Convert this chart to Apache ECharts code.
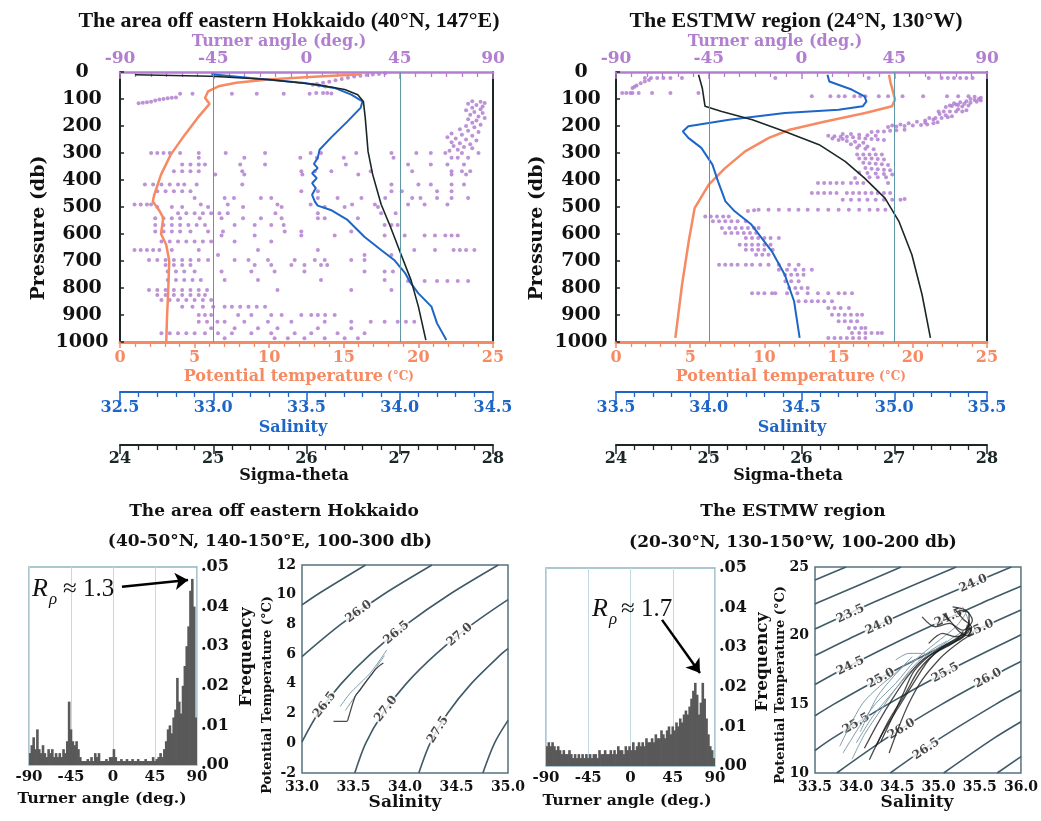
<!DOCTYPE html>
<html lang="en">
<head>
    <meta charset="UTF-8">
    <title>Turner angle profiles</title>
    <script src="https://cdn.jsdelivr.net/npm/echarts@6/dist/echarts.min.js"></script>
    <style>
        html, body { margin: 0; padding: 0; background: #fff; }
        #main { width: 1041px; height: 821px; }
    </style>
</head>
<body>
<div id="main"></div>
<script>
    // ---------- profiles: [value, pressure (db)] ----------
    // area off eastern Hokkaido (40N, 147E)
    var tempHok = [[16.2,8],[13,18],[9.9,28],[7.8,40],[6.6,53],[5.9,72],[5.7,96],[6.0,118],[5.2,170],[4.35,232],[3.4,306],[2.75,380],[2.3,454],[2.2,480],[2.6,510],[2.9,540],[2.75,600],[3.1,640],[3.3,700],[3.25,780],[3.2,850],[3.15,910],[3.1,1000]];
    var salHok = [[32.99,8],[33.2,22],[33.49,41],[33.65,59],[33.74,84],[33.8,109],[33.79,133],[33.72,183],[33.63,244],[33.57,288],[33.56,319],[33.54,340],[33.56,356],[33.53,375],[33.555,393],[33.53,412],[33.55,430],[33.53,455],[33.545,480],[33.56,495],[33.63,511],[33.72,548],[33.81,610],[33.9,659],[33.97,696],[34.03,746],[34.06,783],[34.1,820],[34.17,869],[34.2,931],[34.25,993]];
    var sigHok = [[24.16,10],[24.98,16],[25.59,28],[26.12,47],[26.41,65],[26.55,84],[26.61,109],[26.63,170],[26.66,294],[26.71,380],[26.8,490],[26.9,573],[27.01,672],[27.12,770],[27.2,869],[27.28,993]];
    var turnerHok = [
        [38,5],[35,7],[32,9],[29,11],[26,14],[23,17],[20,21],[17,26],[14,31],[11,36],[8,40],[5,44],[3,47],[6,50],[9,54],[4.7,78],[8,78],[10,78],[12,80],
        [-61,81],[-55,81],[-36,81],[-24,81],[-11,81],[1.5,81],
        [-81,116],[-79,114],[-77,112],[-75,110],[-73,106],[-71,102],[-69,100],[-67,97],[-65,95],[-63,94],
        [80,108],[84,110],[86,115],[78,118],[82,122],[85,128],[80,132],[84,138],[77,142],[81,148],[85,152],[79,158],[83,165],[86,170],[78,175],[82,180],[80,188],[84,195],[77,200],[81,205],[74,212],[78,218],[83,222],[70,228],[75,232],[80,236],[68,242],[72,246],[77,250],[82,254],[70,260],[74,264],[79,268],[71,274],[76,278],[80,282],[73,288],[69,292],
        [-75,300],[-72,300],[-69,300],[-66,300],[-61,300],[-52,300],[-39,300],[-20,300],[2,300],[7,300],[24,300],[41,300],[53,300],[60,300],[67,300],[75,300],[83,300],
        [-52,318],[-30,318],[-3,318],[5,318],[18,318],[42,318],[70,318],[73,318],[78,318],
        [-60,343],[-56,343],[-52,343],[-49,343],[-32,343],[-20,343],[19,343],[49,343],[60,343],[68,343],[76,343],
        [-64,368],[-60,368],[-56,368],[-52,368],[-31,368],[-2.5,368],[4,368],[12,368],[31,368],[51,368],[70,368],[75,368],[79,368],
        [-44,380],[-30,380],[-2,380],[25,380],[70,380],[77,380],
        [-78,417],[-74,417],[-70,417],[-66,417],[-62,417],[-59,417],[-53,417],[-31,417],[41,417],[54,417],[60,417],[70,417],[76,417],
        [-72,442],[-68,442],[-64,442],[-60,442],[-56,442],[-2.5,442],[5.5,442],[41,442],[46,442],[63,442],[70,442],
        [-54,467],[-39.5,467],[-35,467],[-22,467],[-17,467],[5.5,467],[15,467],[26.5,467],[38,467],[51,467],[55,467],[63,467],[70,467],[78,467],
        [-83,491],[-80,491],[-77,491],[-75,491],[-51,491],[-38,491],[-14,491],[2,491],[22,491],[33,491],[49,491],[57,491],[68,491],
        [-72,500],[-65,500],[-60,500],[-47.5,500],[-30.6,500],[-12,500],[8.8,500],[18.4,500],[34.5,500],
        [-62,523],[-58,523],[-54,523],[-50,523],[-46,523],[-42,523],[-38,523],[-15,523],[5.5,523],[36,523],[43,523],
        [-73,542],[-69,542],[-65,542],[-61,542],[-51.5,542],[-41,542],[-30.6,542],[-22,542],[-12,542],[5.5,542],[8.8,542],[24.8,542],
        [-73,567],[-69,567],[-65,567],[-61,567],[-57,567],[-53,567],[-49,567],[-34.7,567],[-25,567],[-17,567],[-11,567],[37.7,567],[41,567],[44,567],
        [-73,591],[-69,591],[-65,591],[-61,591],[-56,591],[-47.5,591],[-40.3,591],[-10.5,591],[-2.5,591],[21.6,591],
        [-41,606],[-25,606],[-2.5,606],[13.6,606],[37.7,606],[47.4,606],[57,606],[62,606],[67,606],[70,606],[73,606],
        [-70,628],[-66,628],[-62,628],[-58,628],[-54,628],[-50,628],[-46,628],[-34.7,628],[-17,628],
        [-83,659],[-80,659],[-77,659],[-74,659],[-71,659],[-65,659],[-52,659],[-23.4,659],[5.5,659],[52,659],[62,659],[71,659],[74,659],[77,659],[81,659],
        [-42.7,678],[28,678],[41,678],
        [-76,696],[-72,696],[-68,696],[-64,696],[-60,696],[-56,696],[-52,696],[-47.5,696],[-34.7,696],[-28,696],[-18.6,696],[-5.7,696],[4,696],[8.8,696],[21.6,696],[28,696],
        [-68,715],[-64,715],[-60,715],[-56,715],[-25,715],[-17,715],[-7.3,715],[-1,715],[7,715],[10,715],
        [-67,739],[-63,739],[-59,739],[-54,739],[-41,739],[-26.6,739],[-15.4,739],[-1,739],[28,739],[37.7,739],[41.7,739],
        [-67,770],[-63,770],[-59,770],[-55,770],[-51,770],[-39.5,770],[-23.4,770],[7,770],[37.7,770],[49,774],[57,774],[63,774],[68,774],[73,774],[78,774],
        [-76,807],[-72,807],[-68,807],[-64,807],[-60,807],[-56,807],[-52,807],[-48,807],[-14,807],[21.6,807],[41,807],
        [-72,826],[-68,826],[-64,826],[-60,826],[-56,826],[-52,826],[-49,826],
        [-70,844],[-66,844],[-62,844],[-58,844],[-54,844],[-50,844],[-46,844],
        [-60,869],[-55,869],[-50,869],[-45,869],[-39.5,869],[-36,869],[-32,869],[-28,869],[-24,869],[-20,869],
        [-52,900],[-49,900],[-46,900],[-33,900],[-26.6,900],[-17,900],[-12,900],[-2.5,900],[2.3,900],[5.5,900],[9,900],[13.6,900],
        [-52,925],[-48,925],[-43,925],[-39.5,925],[-30,925],[-18.6,925],[-7.3,925],[8.8,925],[21.6,925],[31,925],[37.7,925],[44,925],[48,925],[52,925],
        [-46,949],[-34.7,949],[-23.4,949],[-14,949],[5.5,949],[21.6,949],
        [-70,968],[-66,968],[-62,968],[-58,968],[-54,968],[-49,968],[-42.7,968],[-36,968],[-26.6,968],[-17,968],[-5.7,968],[2.3,968],[15,968],[28,968],
        [-39.5,986],[-15.4,986],[-9,986],[-1,986],[8.8,986],[18.4,986],[24.8,986]
    ];

    // ESTMW region (24N, 130W)
    var tempEst = [[18.4,10],[18.5,40],[18.6,59],[18.8,102],[18.6,127],[16.8,152],[14.1,183],[11.7,214],[10.3,244],[8.7,294],[7.35,356],[6.25,417],[5.3,504],[4.9,627],[4.45,788],[4.0,985]];
    var salEst = [[34.64,10],[34.65,35],[34.77,65],[34.84,90],[34.85,109],[34.83,127],[34.7,140],[34.41,152],[34.11,177],[33.89,201],[33.86,220],[33.89,244],[33.96,281],[34.02,343],[34.05,405],[34.09,479],[34.14,516],[34.23,565],[34.34,664],[34.41,751],[34.46,849],[34.49,985]];
    var sigEst = [[24.89,10],[24.93,59],[24.96,127],[25.14,146],[25.47,177],[25.82,220],[26.19,269],[26.47,331],[26.68,393],[26.9,467],[27.05,553],[27.19,677],[27.3,825],[27.39,985]];
    var turnerEst = [
        [-76,22],[-73,22],[-70,22],[-67,22],[-63.6,22],[-58,22],[-12.7,22],[32.6,22],[61.7,22],[68,22],[71,22],[74,22],[77,22],[80,22],[83,22],
        [-82,59],[-81,55],[-80,50],[-78,42],[-76,35],[-74,30],
        [-87,78],[-85,78],[-83,78],[-82,78],[-79,78],[-72.5,78],[-63.6,78],[-50,78],
        [25.6,90],[5,90],[14,90],[18,90],[21,90],[28.5,90],[31,90],[37.5,90],[42,90],[49,90],[59,90],[70.6,90],[76,90],[81,90],[84,92],[87,95],
        [70,130],[73,126],[76,122],[79,118],[82,114],[85,110],[87,106],[84,104],[80,108],[77,112],[74,116],[82,100],[86,100],[75,120],[72,124],[78,128],[81,124],
        [66.5,146],[69,146],[72,146],[75,146],[78,146],[80,142],[76,138],
        [62,170],[65,170],[68,170],[71,168],[73,164],[70,160],[67,156],[64,176],[60,180],[56,184],[52,190],[48,194],[44,198],
        [42,204],[46,202],[50,200],[54,198],[58,196],[61,194],[64,190],[66,186],[60,188],
        [34,222],[37,220],[40,220],[43,218],[46,216],[50,214],[20,230],[24,230],[28,232],[32,234],[36,236],[15,246],[20,248],
        [13,236],[16,238],[19,240],[22,240],[25,242],[28,244],[31,246],[34,248],[37,250],[40,252],[18,252],[22,256],[26,258],[30,262],[24,268],[28,272],[32,276],[27,281],[31,284],[35,286],
        [27,306],[30,306],[33,306],[36,306],[39,306],[28,320],[31,320],[34,320],[37,322],[40,324],[30,336],[33,338],[36,340],[39,342],[42,344],[31,356],[34,358],[37,360],[40,362],[43,364],[28,372],[32,374],[36,376],[40,378],[44,380],[33,390],[37,390],[41,390],[26,393],
        [8,411],[11,411],[14,411],[17,411],[20,411],[24,411],[27,411],[30,411],[42,411],
        [5,448],[8,448],[11,448],[14,448],[17,448],[22,448],[25,448],[28,448],[31,448],[34,448],[37,448],[40,448],[43,448],
        [20,473],[24,473],[28,473],[32,473],[36,473],[40,473],[44,473],[48,473],[50,470],
        [-20.8,510],[-16,510],[-11,510],[-6,510],[-1.5,510],[3,510],[8,510],[13,510],[18,510],[23,510],[28,510],[33,510],[37,510],[40.7,510],[-23,512],[-26,515],
        [-46.7,535],[-44,535],[-41,535],[-38,535],[-35.3,535],
        [-43,553],[-40,553],[-37,553],[-34,553],[-31,553],[-27,553],
        [-38.6,578],[-35,578],[-32,578],[-29,578],[-26,578],[-23,578],[-20.8,578],
        [-37,596],[-34,596],[-31,596],[-28,596],[-25,596],[-22,596],
        [-27,615],[-24,615],[-21,615],[-18,615],[-15,615],[-11,615],
        [-30,640],[-27,640],[-24,640],[-21,640],[-18,640],[-15,640],
        [-27,658],[-24,658],[-21,658],[-18,658],[-14,658],
        [-22,677],[-19,677],[-16,677],
        [-40,714],[-37,714],[-34,714],[-31,714],[-27,714],[-24,714],[-20,714],[-16,714],[-11,714],[-6,714],[-1.4,714],
        [-11,732],[-7,732],[-3,732],[1,732],[5,732],
        [-8,751],[-5,751],[-2,751],[1,751],
        [-7.8,775],[-5,775],[-1.4,775],
        [-6,800],[-3,800],[0,800],[3,800],
        [-24,819],[-21,819],[-18,819],[-14.3,819],[-12.7,819],[-7,819],[-2,819],[3,819],[8,819],[13,819],[18,819],[21,819],[24.5,819],
        [-1.4,849],[2,849],[5,849],[8,849],[11,849],[14.8,849],
        [13,874],[16,874],[19,874],[23,874],
        [14.8,899],[18,899],[21,899],[24,899],[27,899],[29.4,899],
        [18,923],[21,923],[24,923],[27,923],
        [23,948],[26,948],[29,948],[31,948],
        [24.5,967],[28,967],[31,967],[34,967],[37,967],[39,967],
        [13,985],[16,985],[19,985],[22,985],[25,985],[28,985],[31,985]
    ];

    // ---------- Turner angle histograms (2 degree bins) ----------
    var turnerBins = [-89,-87,-85,-83,-81,-79,-77,-75,-73,-71,-69,-67,-65,-63,-61,-59,-57,-55,-53,-51,-49,-47,-45,-43,-41,-39,-37,-35,-33,-31,-29,-27,-25,-23,-21,-19,-17,-15,-13,-11,-9,-7,-5,-3,-1,1,3,5,7,9,11,13,15,17,19,21,23,25,27,29,31,33,35,37,39,41,43,45,47,49,51,53,55,57,59,61,63,65,67,69,71,73,75,77,79,81,83,85,87,89];
    var histHok = [
        0.003,0.005,0.007,0.004,0.009, 0.004,0.003,0.005,0.003,0.002, 0.004,0.003,0.004,0.002,0.003,
        0.002,0.003,0.002,0.004,0.003, 0.006,0.016,0.009,0.006,0.005, 0.006,0.004,0.002,0.001,0.001,
        0.001,0.0015,0.001,0.002,0.001, 0.003,0.002,0.003,0.001,0.001, 0.001,0.0015,0.001,0.002,0.002,
        0.004,0.002,0.001,0.001,0.0015, 0.001,0.001,0.0015,0.001,0.001, 0.0015,0.001,0.001,0.0015,0.001,
        0.001,0.001,0.0015,0.001,0.001, 0.001,0.002,0.001,0.0015,0.002, 0.003,0.002,0.004,0.006,0.009,
        0.010,0.008,0.012,0.014,0.022, 0.016,0.013,0.020,0.025,0.030, 0.035,0.044,0.047,0.040,0.012
    ];
    var histEst = [
        0.005,0.006,0.005,0.006,0.005, 0.004,0.005,0.004,0.003,0.004, 0.003,0.003,0.004,0.003,0.002,
        0.003,0.002,0.003,0.002,0.003, 0.002,0.003,0.002,0.003,0.002, 0.003,0.003,0.002,0.004,0.003,
        0.003,0.004,0.003,0.003,0.004, 0.003,0.004,0.003,0.005,0.004, 0.004,0.003,0.005,0.004,0.005,
        0.004,0.006,0.004,0.005,0.006, 0.005,0.006,0.005,0.007,0.006, 0.006,0.007,0.006,0.008,0.007,
        0.007,0.009,0.008,0.007,0.009, 0.010,0.008,0.010,0.009,0.011, 0.010,0.012,0.011,0.013,0.014,
        0.013,0.015,0.017,0.019,0.021, 0.018,0.013,0.016,0.021,0.017, 0.012,0.008,0.005,0.004,0.002
    ];
    // R_rho arrows [turner angle, frequency]
    var arrowHok = [[9.6,0.045],[80.4,0.0467]];
    var arrowEst = [[33.6,0.0369],[74,0.0235]];

    // ---------- T-S diagrams: [salinity, potential temperature] ----------
    var isoHokLines = [
        [[33.0,9.31],[33.145,10],[33.617,12]],
        [[33.0,5.84],[33.376,8],[33.786,10],[34.262,12]],
        [[33.0,0.1],[33.156,2],[33.379,4],[33.665,6],[34.014,8],[34.427,10],[34.906,12]],
        [[33.512,-2],[33.618,0],[33.784,2],[34.01,4],[34.3,6],[34.652,8],[35.0,9.67]],
        [[34.134,-2],[34.243,0],[34.412,2],[34.641,4],[34.934,6],[35.0,6.37]],
        [[34.756,-2],[34.868,0],[35.0,1.54]]
    ];
    var isoHokLabels = [[33.55,8.86,'26.0'],[33.918,7.45,'26.5'],[33.22,2.59,'26.5'],[33.815,2.3,'27.0'],[34.53,7.3,'27.0'],[34.32,0.91,'27.5']];
    var isoHokLabelRot = [36, 40, 53, 52, 40, 58];
    var tsHokDark = [[[33.306,1.47],[33.435,1.47],[33.45,1.7],[33.516,3.15],[33.565,3.6],[33.661,4.5],[33.726,5.06],[33.79,5.4]]];
    var tsHokLight = [
        [[33.371,2.48],[33.468,3.38],[33.532,3.82],[33.661,4.72],[33.758,5.62],[33.823,6.29]],
        [[33.42,2.2],[33.5,3.0],[33.6,4.0],[33.7,4.9],[33.8,5.9]]
    ];

    var isoEstLines = [
        [[33.5,24.05],[33.876,25]],
        [[33.5,22.3],[33.574,22.5],[34.545,25]],
        [[33.5,20.48],[34.24,22.5],[35.214,25]],
        [[33.5,18.55],[33.991,20],[34.905,22.5],[35.883,25]],
        [[33.5,16.44],[33.82,17.5],[34.653,20],[35.571,22.5],[36.0,23.6]],
        [[33.5,14.17],[33.725,15],[34.478,17.5],[35.315,20],[36.0,21.87]],
        [[33.5,11.64],[33.706,12.5],[34.381,15],[35.137,17.5],[35.977,20],[36.0,20.06]],
        [[33.764,10],[34.359,12.5],[35.037,15],[35.796,17.5],[36.0,18.12]],
        [[34.413,10],[35.012,12.5],[35.692,15],[36.0,16.02]],
        [[35.062,10],[35.665,12.5],[36.0,13.73]],
        [[35.712,10],[36.0,11.19]]
    ];
    var isoEstLabels = [[33.93,21.6,'23.5'],[34.28,20.75,'24.0'],[35.42,23.8,'24.0'],[33.93,17.8,'24.5'],[35.12,21.3,'24.5'],[34.3,16.9,'25.0'],[35.5,20.5,'25.0'],[34.0,13.6,'25.5'],[35.08,17.3,'25.5'],[34.55,13.2,'26.0'],[35.6,16.9,'26.0'],[34.85,11.75,'26.5']];
    var isoEstLabelRot = [25, 24, 23, 26, 24, 29, 24, 31, 29, 31, 29, 34];
    var tsEstDark = [
        [[34.24,11.94],[34.4,13.87],[34.6,15.81],[34.76,17.5],[34.96,18.71],[35.17,19.44],[35.33,20.16],[35.37,21.13]],
        [[34.16,10.97],[34.32,12.9],[34.52,14.84],[34.72,16.78],[34.88,18.23],[35.05,19.19],[35.25,19.92],[35.41,20.65]],
        [[34.8,21.37],[34.96,20.65],[35.13,20.89],[35.29,20.4],[35.41,21.13],[35.33,21.85],[35.17,22.1]],
        [[34.88,19.44],[35.05,20.16],[35.21,19.92],[35.37,20.4],[35.37,21.61],[35.25,21.85]],
        [[34.4,11.45],[34.52,13.39],[34.64,15.08],[34.8,16.78],[35.0,18.23],[35.13,18.95],[35.29,19.68],[35.41,20.16]],
        [[34.3,12.3],[34.45,14.2],[34.58,15.9],[34.7,17.4],[34.9,18.6],[35.1,19.3],[35.3,19.9],[35.35,20.8]],
        [[34.1,11.8],[34.26,13.6],[34.44,15.4],[34.62,17.0],[34.8,18.2],[35.02,19.0],[35.2,19.6],[35.3,20.3]],
        [[35.2,21.9],[35.3,21.2],[35.4,20.6],[35.35,20.0],[35.25,20.3],[35.15,21.0],[35.05,21.6]]
    ];
    var tsEstLight = [
        [[33.84,11.45],[34.04,13.39],[34.24,15.08],[34.48,16.53],[34.72,18.23],[34.96,19.44],[35.21,20.65],[35.33,21.61]],
        [[34.0,12.18],[34.2,14.11],[34.4,15.57],[34.64,17.26],[34.84,18.47],[35.13,19.68],[35.37,20.89],[35.29,22.1]],
        [[33.8,11.94],[33.92,13.39],[34.08,15.08],[34.28,16.29],[34.52,17.5],[34.68,18.47]],
        [[34.48,18.23],[34.64,18.71],[34.84,18.71]],
        [[33.95,11.0],[34.1,12.8],[34.3,14.6],[34.5,16.3],[34.7,17.8],[34.9,18.9],[35.1,19.6]],
        [[34.05,13.0],[34.25,15.5],[34.45,17.0],[34.6,17.9],[34.75,18.3]]
    ];

    // ---------- styles ----------
    var SERIF = '"DejaVu Serif", serif';
    var TIMES = '"Liberation Serif", "Times New Roman", serif';
    var PURPLE = '#b27fd0', ORANGE = '#f58a63', BLUE = '#1d66c8', BLACK = '#1b2727', TEAL = '#5f97a6';
    var CONTOUR = '#3f5b67', FRAME = '#56727e', HFRAME = '#92b5c4', BAR = '#595959';

    function valAxis(o) {
        var label = {show: o.labels !== false, color: o.labelColor || o.color, fontSize: o.size || 16,
            fontWeight: 'bold', fontFamily: SERIF, margin: o.margin == null ? 6 : o.margin};
        if (o.align) label.align = o.align;
        if (o.fmt) label.formatter = o.fmt;
        return {
            gridIndex: o.grid, type: 'value', position: o.pos, offset: o.offset || 0,
            min: o.min, max: o.max, interval: o.step, inverse: !!o.inverse,
            axisLine: {show: o.line !== false, onZero: false, lineStyle: {color: o.color, width: o.lineWidth || 2}},
            axisTick: {show: o.tick !== false, inside: !!o.inside, length: o.tickLen || 6, lineStyle: {color: o.color, width: 1.5}},
            minorTick: {show: !!o.minor, splitNumber: o.minor || 5, length: o.minorLen || 5, lineStyle: {color: o.color, width: 1.3}},
            splitLine: {show: !!o.split, lineStyle: {color: '#c3d9e3', width: 1}},
            axisLabel: label
        };
    }
    function fix1(v) { return v.toFixed(1); }
    function plain(v) { return String(v); }
    function freq(v) { return v.toFixed(2).slice(1); }

    function profileX(g, salMin, salMax) {
        return [
            valAxis({grid: g, pos: 'top', min: -90, max: 90, step: 45, color: PURPLE, lineWidth: 2.5, inside: true, tickLen: 7, minor: 6, size: 17, margin: 5}),
            valAxis({grid: g, pos: 'bottom', min: 0, max: 25, step: 5, color: ORANGE, lineWidth: 3, tickLen: 6, minor: 5, size: 16, margin: 8}),
            valAxis({grid: g, pos: 'bottom', offset: 50, min: salMin, max: salMax, step: 0.5, color: BLUE, tickLen: 9, minor: 5, size: 16, margin: 8, fmt: fix1}),
            valAxis({grid: g, pos: 'bottom', offset: 103, min: 24, max: 28, step: 1, color: BLACK, tickLen: 9, minor: 5, size: 16, margin: 6})
        ];
    }
    function profileY(g, margin) {
        return [
            valAxis({grid: g, pos: 'left', min: 0, max: 1000, step: 100, inverse: true, color: BLACK, inside: true, tickLen: 4, size: 19, margin: margin, align: 'center', labelColor: '#111', fmt: plain}),
            valAxis({grid: g, pos: 'right', min: 0, max: 1000, step: 100, inverse: true, color: BLACK, tick: false, labels: false})
        ];
    }

    var xAxes = [].concat(
        profileX(0, 32.5, 34.5),
        profileX(1, 33.5, 35.5),
        [{gridIndex: 2, type: 'category', data: turnerBins, show: false}],
        [valAxis({grid: 2, pos: 'bottom', min: -90, max: 90, step: 45, color: '#111', line: false, tick: false, split: true, size: 15, margin: 5})],
        [valAxis({grid: 3, pos: 'bottom', min: 33, max: 35, step: 0.5, color: '#111', line: false, tick: false, size: 14, margin: 7, fmt: fix1})],
        [{gridIndex: 4, type: 'category', data: turnerBins, show: false}],
        [valAxis({grid: 4, pos: 'bottom', min: -90, max: 90, step: 45, color: '#111', line: false, tick: false, split: true, size: 15, margin: 5})],
        [valAxis({grid: 5, pos: 'bottom', min: 33.5, max: 36, step: 0.5, color: '#111', line: false, tick: false, size: 14, margin: 7, fmt: fix1})]
    );
    var yAxes = [].concat(
        profileY(0, 38),
        profileY(1, 35),
        [valAxis({grid: 2, pos: 'right', min: 0, max: 0.05, step: 0.01, color: '#111', line: false, tick: false, size: 16, margin: 4, fmt: freq})],
        [valAxis({grid: 3, pos: 'left', min: -2, max: 12, step: 2, color: '#111', line: false, tick: false, size: 14, margin: 6})],
        [valAxis({grid: 4, pos: 'right', min: 0, max: 0.05, step: 0.01, color: '#111', line: false, tick: false, size: 16, margin: 4, fmt: freq})],
        [valAxis({grid: 5, pos: 'left', min: 10, max: 25, step: 5, color: '#111', line: false, tick: false, size: 14, margin: 6})]
    );

    var series = [];
    function profile(xi, yi, data, color, width) {
        series.push({type: 'line', xAxisIndex: xi, yAxisIndex: yi, data: data, symbol: 'none', silent: true, z: 3,
            lineStyle: {color: color, width: width}});
    }
    function dots(xi, yi, data) {
        series.push({type: 'scatter', xAxisIndex: xi, yAxisIndex: yi, data: data, symbolSize: 4, silent: true, z: 2,
            itemStyle: {color: PURPLE, opacity: 0.85},
            markLine: {silent: true, symbol: 'none', label: {show: false}, animation: false,
                lineStyle: {color: TEAL, width: 1, type: 'solid'}, data: [{xAxis: -45}, {xAxis: 45}]}});
    }
    dots(0, 0, turnerHok);
    profile(1, 0, tempHok, ORANGE, 2.5);
    profile(2, 0, salHok, BLUE, 2);
    profile(3, 0, sigHok, BLACK, 1.6);
    dots(4, 2, turnerEst);
    profile(5, 2, tempEst, ORANGE, 2.5);
    profile(6, 2, salEst, BLUE, 2);
    profile(7, 2, sigEst, BLACK, 1.6);

    function histogram(cx, vx, yi, data, arrow) {
        series.push({type: 'bar', xAxisIndex: cx, yAxisIndex: yi, data: data, barWidth: 2.6, silent: true,
            itemStyle: {color: BAR}});
        series.push({type: 'line', xAxisIndex: vx, yAxisIndex: yi, data: [], silent: true,
            markLine: {silent: true, symbol: ['none', 'arrow'], symbolSize: 13, label: {show: false}, animation: false,
                lineStyle: {color: '#000', width: 2.5, type: 'solid'},
                data: [[{coord: arrow[0]}, {coord: arrow[1]}]]}});
    }
    histogram(8, 9, 4, histHok, arrowHok);
    histogram(11, 12, 6, histEst, arrowEst);

    function tsDiagram(xi, yi, lines, labels, rots, dark, light) {
        lines.forEach(function (pts) {
            series.push({type: 'line', xAxisIndex: xi, yAxisIndex: yi, data: pts, smooth: 0.3, symbol: 'none', silent: true, z: 2,
                lineStyle: {color: CONTOUR, width: 1.6}});
        });
        series.push({type: 'scatter', xAxisIndex: xi, yAxisIndex: yi, symbolSize: 0.1, silent: true, z: 3,
            itemStyle: {color: '#fff'},
            label: {show: true, position: 'inside', color: '#1a1a1a', fontSize: 12, fontWeight: 'bold', fontFamily: SERIF,
                backgroundColor: '#fff', padding: [0, 1]},
            data: labels.map(function (d, i) {
                return {value: [d[0], d[1]], label: {rotate: rots[i], formatter: d[2]}};
            })});
        light.forEach(function (pts) {
            series.push({type: 'line', xAxisIndex: xi, yAxisIndex: yi, data: pts, smooth: 0.3, symbol: 'none', silent: true, z: 4,
                lineStyle: {color: '#7f9eab', width: 1}});
        });
        dark.forEach(function (pts) {
            series.push({type: 'line', xAxisIndex: xi, yAxisIndex: yi, data: pts, smooth: 0.3, symbol: 'none', silent: true, z: 5,
                lineStyle: {color: '#1e1e1e', width: 1.3, opacity: 0.8}});
        });
    }
    tsDiagram(10, 5, isoHokLines, isoHokLabels, isoHokLabelRot, tsHokDark, tsHokLight);
    tsDiagram(13, 7, isoEstLines, isoEstLabels, isoEstLabelRot, tsEstDark, tsEstLight);

    // ---------- text ----------
    function txt(x, y, text, o) {
        o = o || {};
        var align = o.align || 'center';
        return {
            type: 'text', x: x, y: y, z: 100, rotation: o.rotate ? Math.PI / 2 : 0, silent: true,
            style: {
                text: text, fill: o.color || '#111', fontSize: o.size || 16,
                fontWeight: o.weight || 'bold', fontStyle: o.italic ? 'italic' : 'normal',
                fontFamily: o.family || SERIF,
                align: align, textAlign: align, verticalAlign: 'middle', textVerticalAlign: 'middle'
            }
        };
    }
    var graphics = [
        txt(289, 21, 'The area off eastern Hokkaido (40°N, 147°E)', {family: TIMES, size: 22}),
        txt(796, 21, 'The ESTMW region (24°N, 130°W)', {family: TIMES, size: 22}),
        txt(279, 42, 'Turner angle (deg.)', {color: PURPLE}),
        txt(775, 42, 'Turner angle (deg.)', {color: PURPLE}),
        txt(39, 228, 'Pressure (db)', {size: 19, rotate: true}),
        txt(537, 228, 'Pressure (db)', {size: 19, rotate: true}),
        txt(383, 377, 'Potential temperature', {color: ORANGE, align: 'right'}),
        txt(387, 377, '(°C)', {color: ORANGE, size: 12, align: 'left'}),
        txt(875, 377, 'Potential temperature', {color: ORANGE, align: 'right'}),
        txt(879, 377, '(°C)', {color: ORANGE, size: 12, align: 'left'}),
        txt(293, 428, 'Salinity', {color: BLUE}),
        txt(792, 428, 'Salinity', {color: BLUE}),
        txt(294, 476, 'Sigma-theta'),
        txt(788, 476, 'Sigma-theta'),
        txt(274, 512, 'The area off eastern Hokkaido', {size: 17}),
        txt(270, 542, '(40-50°N, 140-150°E, 100-300 db)', {size: 17}),
        txt(793, 512, 'The ESTMW region', {size: 17}),
        txt(793, 543, '(20-30°N, 130-150°W, 100-200 db)', {size: 17}),
        txt(102, 799, 'Turner angle (deg.)', {size: 15.5}),
        txt(627, 801, 'Turner angle (deg.)', {size: 15.5}),
        txt(247, 657, 'Frequency', {size: 17, rotate: true}),
        txt(763, 662, 'Frequency', {size: 17, rotate: true}),
        txt(268, 695, 'Potential Temperature (°C)', {size: 13, rotate: true}),
        txt(781, 685, 'Potential Temperature (°C)', {size: 13, rotate: true}),
        txt(405, 803, 'Salinity', {size: 17}),
        txt(917, 803, 'Salinity', {size: 17}),
        txt(32, 589, 'R', {family: TIMES, size: 26, weight: 'normal', italic: true, align: 'left'}),
        txt(49, 600, 'ρ', {family: TIMES, size: 17, weight: 'normal', italic: true, align: 'left'}),
        txt(63, 589, '≈ 1.3', {family: TIMES, size: 25, weight: 'normal', align: 'left'}),
        txt(592, 609, 'R', {family: TIMES, size: 26, weight: 'normal', italic: true, align: 'left'}),
        txt(609, 620, 'ρ', {family: TIMES, size: 17, weight: 'normal', italic: true, align: 'left'}),
        txt(621, 609, '≈ 1.7', {family: TIMES, size: 25, weight: 'normal', align: 'left'})
    ];

    var myChart = echarts.init(document.getElementById('main'));
    myChart.setOption({
        animation: false,
        backgroundColor: '#fff',
        grid: [
            {left: 120, top: 72, width: 373, height: 270},
            {left: 616, top: 72, width: 371, height: 270},
            {left: 29, top: 567, width: 168, height: 198, show: true, borderColor: HFRAME, borderWidth: 1.5},
            {left: 302, top: 565, width: 206, height: 208, show: true, borderColor: FRAME, borderWidth: 1.5},
            {left: 546, top: 568, width: 169, height: 198, show: true, borderColor: HFRAME, borderWidth: 1.5},
            {left: 815, top: 567, width: 208, height: 206, show: true, borderColor: FRAME, borderWidth: 1.5}
        ],
        xAxis: xAxes,
        yAxis: yAxes,
        series: series,
        graphic: graphics
    });
</script>
</body>
</html>
